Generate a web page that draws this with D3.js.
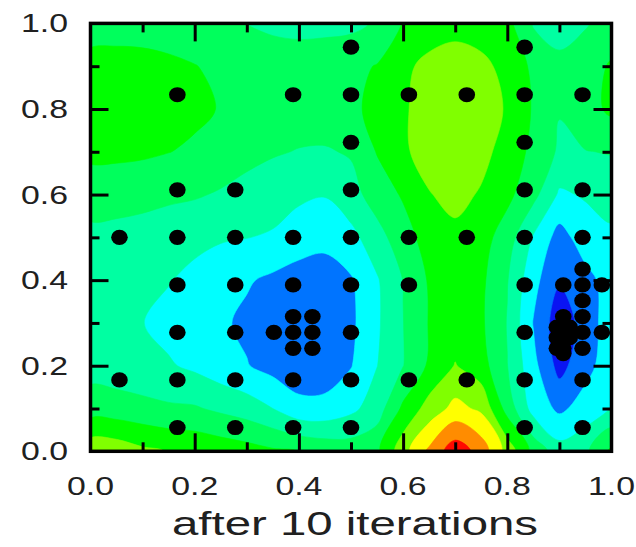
<!DOCTYPE html>
<html>
<head>
<meta charset="utf-8">
<script src="https://cdn.jsdelivr.net/npm/d3@7"></script>
<style>
  html, body { margin: 0; padding: 0; background: #ffffff; }
  svg { display: block; }
  text { font-family: "Liberation Sans", Arial, Helvetica, sans-serif; fill: #202020; }
</style>
</head>
<body>
<svg id="chart" width="636" height="547"></svg>
<script>
// Objective surface on a regular lattice: 21 columns (x = 0 … 1, step 0.05),
// rows listed from y = 1.0 (top) down to y = 0.0 (bottom), step 0.1.
const row10 = [4.6, 4.6, 4.6, 4.5, 4.4, 4.2, 3.98, 3.8, 3.7, 3.7, 3.75, 4.1, 5.05, 5.5, 5.7, 5.5, 5.3, 3.9, 3.5, 3.9, 4.4];
const row09 = [5.3, 5.35, 5.3, 5.2, 5.03, 4.8, 4.6, 4.5, 4.5, 4.6, 4.75, 5.05, 5.8, 6.25, 6.4, 6.25, 5.7, 4.8, 4.3, 4.6, 5.1];
const row08 = [5.6, 5.6, 5.55, 5.4, 5.2, 4.95, 4.7, 4.55, 4.5, 4.6, 4.85, 5.2, 5.85, 6.5, 6.7, 6.5, 5.9, 4.9, 4.05, 4.6, 5.2];
const row07 = [5.2, 5.2, 5.15, 5.02, 4.85, 4.6, 4.35, 4.1, 3.95, 3.9, 4.1, 5.05, 5.85, 6.4, 6.6, 6.3, 5.6, 4.75, 3.85, 3.97, 4.05];
const row06 = [4.5, 4.45, 4.35, 4.2, 4.1, 3.9, 3.6, 3.4, 3.2, 3.05, 3.6, 4.5, 5.1, 5.95, 6.3, 5.9, 5.25, 4.3, 2.85, 3.1, 3.4];
const row05 = [3.7, 3.65, 3.55, 3.4, 3.25, 3.1, 3.02, 2.9, 2.45, 2.3, 2.7, 3.6, 4.6, 5.4, 5.75, 5.4, 4.5, 2.9, 1.6, 2.5, 2.8];
const row04 = [3.5, 3.4, 3.25, 3.05, 2.75, 2.4, 2.1, 1.8, 1.6, 1.5, 1.9, 2.9, 4.02, 5.1, 5.5, 5.2, 4.05, 2.3, 1.1, 1.7, 2.4];
const row03 = [3.35, 3.2, 3.02, 2.7, 2.45, 2.15, 1.8, 1.5, 1.25, 1.3, 1.8, 2.85, 3.98, 5.05, 5.5, 5.15, 3.95, 1.95, 0.4, 1.4, 2.6];
const row02 = [3.6, 3.45, 3.3, 3.1, 2.8, 2.4, 2.05, 1.65, 1.4, 1.45, 1.95, 2.98, 3.97, 5.15, 6.05, 5.4, 4.02, 2.3, 0.65, 1.7, 2.5];
const row01 = [4.5, 4.45, 4.3, 4.15, 4.1, 3.8, 3.5, 3.0, 2.3, 2.3, 2.75, 3.5, 5.2, 6.4, 7.3, 6.8, 4.6, 2.6, 1.8, 2.4, 3.03];
const row00 = [6.7, 6.6, 6.2, 5.95, 5.8, 5.6, 5.4, 5.15, 4.98, 4.7, 4.55, 4.8, 6.6, 8.2, 9.6, 8.6, 6.6, 4.7, 3.4, 3.8, 5.2];
const surfaceRows = [row10, row09, row08, row07, row06, row05, row04, row03, row02, row01, row00];

// Filled contour levels and their colours (first colour lies below the first level).
const levels = [1, 2, 3, 4, 5, 6, 7, 8, 9];
const levelColors = ["#0a14f2", "#0074ff", "#00ffff", "#00ffa2", "#00ff5c", "#00ff00",
                     "#80ff00", "#ffff00", "#ff8c00", "#ff0a00"];

// Evaluated design points: coarse 9x9 lattice (cell centres) ...
const latticePoints = [
  [0.5000, 0.9444], [0.8333, 0.9444],
  [0.1667, 0.8333], [0.3889, 0.8333], [0.5000, 0.8333], [0.6111, 0.8333], [0.7222, 0.8333], [0.8333, 0.8333], [0.9444, 0.8333],
  [0.5000, 0.7222], [0.8333, 0.7222],
  [0.1667, 0.6111], [0.2778, 0.6111], [0.5000, 0.6111], [0.8333, 0.6111], [0.9444, 0.6111],
  [0.0556, 0.5000], [0.1667, 0.5000], [0.2778, 0.5000], [0.3889, 0.5000], [0.5000, 0.5000], [0.6111, 0.5000], [0.7222, 0.5000], [0.8333, 0.5000], [0.9444, 0.5000],
  [0.1667, 0.3889], [0.2778, 0.3889], [0.3889, 0.3889], [0.5000, 0.3889], [0.6111, 0.3889], [0.8333, 0.3889], [0.9444, 0.3889],
  [0.1667, 0.2778], [0.2778, 0.2778], [0.3889, 0.2778], [0.5000, 0.2778], [0.8333, 0.2778], [0.9444, 0.2778],
  [0.0556, 0.1667], [0.1667, 0.1667], [0.2778, 0.1667], [0.3889, 0.1667], [0.5000, 0.1667], [0.6111, 0.1667], [0.7222, 0.1667], [0.8333, 0.1667], [0.9444, 0.1667],
  [0.1667, 0.0556], [0.2778, 0.0556], [0.3889, 0.0556], [0.5000, 0.0556], [0.8333, 0.0556], [0.9444, 0.0556]
];
// ... and the refined points added around the two minima.
const refinedLeft = [
  [0.3519, 0.2778], [0.3889, 0.3148], [0.4259, 0.3148], [0.4259, 0.2778], [0.3889, 0.2407], [0.4259, 0.2407]
];
const refinedRight = [
  [0.9444, 0.4259], [0.9074, 0.3889], [0.9815, 0.3889], [0.9444, 0.3519], [0.9444, 0.3148], [0.9074, 0.3148],
  [0.9815, 0.2778], [0.9444, 0.2407], [0.9074, 0.2778], [0.8951, 0.2901], [0.9198, 0.2901], [0.8951, 0.2654],
  [0.9198, 0.2654], [0.8951, 0.2407], [0.9074, 0.2407], [0.9074, 0.2284]
];

const tickValues = [0, 0.2, 0.4, 0.6, 0.8, 1.0];
const majorTicks = [0.2, 0.4, 0.6, 0.8];
const minorTicks = [0.1, 0.3, 0.5, 0.7, 0.9];
const xTitle = "after 10 iterations";

// ---- layout ----
const svg = d3.select("#chart");
const x = d3.scaleLinear().domain([0, 1]).range([90.5, 611.5]);
const y = d3.scaleLinear().domain([0, 1]).range([451.3, 23.4]);

const nCols = row00.length, nRows = surfaceRows.length;
// contour grid coordinates -> pixels (sample i sits at grid coordinate i + 0.5)
const col = d3.scaleLinear().domain([0.5, nCols - 0.5]).range([x(0), x(1)]);
const row = d3.scaleLinear().domain([0.5, nRows - 0.5]).range([y(1), y(0)]);

// each contour ring is drawn as a smooth closed curve through its vertices
const ringLine = d3.line()
  .x(p => col(p[0]))
  .y(p => row(p[1]))
  .curve(d3.curveCatmullRomClosed.alpha(0.5));
const bandPath = mp => mp.coordinates
  .flatMap(polygon => polygon.map(ring => ringLine(ring.slice(0, -1))))
  .join("");

const defs = svg.append("defs");
defs.append("clipPath").attr("id", "plot-clip")
  .append("rect")
  .attr("x", x(0)).attr("y", y(1))
  .attr("width", x(1) - x(0)).attr("height", y(0) - y(1));

const plot = svg.append("g").attr("clip-path", "url(#plot-clip)");
plot.append("rect")
  .attr("x", x(0)).attr("y", y(1))
  .attr("width", x(1) - x(0)).attr("height", y(0) - y(1))
  .attr("fill", levelColors[0]);

const bands = d3.contours().size([nCols, nRows]).thresholds(levels)(surfaceRows.flat());
plot.selectAll("path.band")
  .data(bands)
  .join("path")
  .attr("class", "band")
  .attr("d", bandPath)
  .attr("fill", (d, i) => levelColors[i + 1])
  .attr("stroke", (d, i) => levelColors[i + 1])
  .attr("stroke-width", 0.6);

// design points
const points = latticePoints.concat(refinedLeft, refinedRight);
svg.append("g").selectAll("ellipse")
  .data(points)
  .join("ellipse")
  .attr("cx", d => x(d[0]))
  .attr("cy", d => y(d[1]))
  .attr("rx", 8.3)
  .attr("ry", 7.6)
  .attr("fill", "#000");

// inward ticks on all four sides
function ticks(axis, values, size, transform) {
  const g = svg.append("g").attr("transform", transform)
    .call(axis.tickValues(values).tickSize(-size).tickFormat(""));
  g.select(".domain").remove();
  g.selectAll(".tick line").attr("stroke", "#000").attr("stroke-width", 3);
}
[[majorTicks, 18], [minorTicks, 9]].forEach(([vals, size]) => {
  ticks(d3.axisBottom(x), vals, size, `translate(0,${y(0)})`);
  ticks(d3.axisTop(x), vals, size, `translate(0,${y(1)})`);
  ticks(d3.axisLeft(y), vals, size, `translate(${x(0)},0)`);
  ticks(d3.axisRight(y), vals, size, `translate(${x(1)},0)`);
});

// frame
svg.append("rect")
  .attr("x", x(0)).attr("y", y(1))
  .attr("width", x(1) - x(0)).attr("height", y(0) - y(1))
  .attr("fill", "none").attr("stroke", "#000").attr("stroke-width", 3.5);

// tick labels
const fmt = d3.format(".1f");
svg.append("g").selectAll("text")
  .data(tickValues)
  .join("text")
  .attr("x", d => x(d))
  .attr("y", 495)
  .attr("text-anchor", "middle")
  .attr("font-size", 25.5)
  .attr("textLength", 47)
  .attr("lengthAdjust", "spacingAndGlyphs")
  .text(fmt);

svg.append("g").selectAll("text")
  .data(tickValues)
  .join("text")
  .attr("x", 68)
  .attr("y", d => y(d) + 9)
  .attr("text-anchor", "end")
  .attr("font-size", 25.5)
  .attr("textLength", 47)
  .attr("lengthAdjust", "spacingAndGlyphs")
  .text(fmt);

// axis title
svg.append("text")
  .attr("x", 355)
  .attr("y", 535)
  .attr("text-anchor", "middle")
  .attr("font-size", 34)
  .attr("textLength", 366)
  .attr("lengthAdjust", "spacingAndGlyphs")
  .text(xTitle);
</script>
</body>
</html>
